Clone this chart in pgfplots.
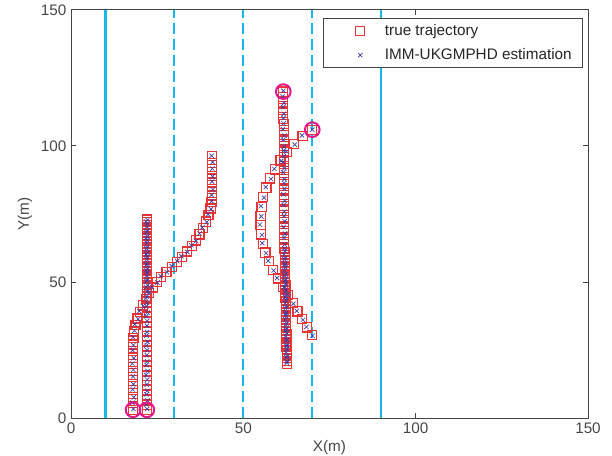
\documentclass[border=0pt]{standalone}
\usepackage{fontspec}
\setmainfont{Liberation Sans}
\usepackage{pgfplots}
\usepackage{pgfplotstable}
\pgfplotsset{compat=1.18}
\usetikzlibrary{calc}

\definecolor{trajred}{RGB}{232,52,52}
\definecolor{estblue}{RGB}{60,60,165}
\definecolor{birthmag}{RGB}{228,24,140}
\definecolor{lanecyan}{RGB}{20,182,235}
\definecolor{axgray}{RGB}{70,70,70}

% columns: true x, true y, estimated x, estimated y
\pgfplotstableread{
x y ex ey
22 3.0 22.1 3.3
22 4.8 21.8 5.0
22 6.6 22.2 6.4
22 8.4 21.9 8.7
22 10.2 22.1 10.0
22 12.0 22.0 12.3
22 13.8 22.1 14.1
22 15.6 21.8 15.8
22 17.4 22.2 17.2
22 19.2 21.9 19.5
22 21.0 22.1 20.8
22 22.8 22.0 23.1
22 24.6 22.1 24.9
22 26.4 21.8 26.6
22 28.2 22.2 28.0
22 30.0 21.9 30.3
22 31.8 22.1 31.6
22 33.6 22.0 33.9
22 35.4 22.1 35.7
22 37.2 21.8 37.4
22 39.0 22.2 38.8
22 40.8 21.9 41.1
22 42.6 22.1 42.4
22 44.4 22.0 44.7
22 46.2 22.1 46.5
22 48.0 21.8 48.2
22 49.0 22.2 48.8
22 50.0 21.9 50.3
22 51.0 22.1 50.8
22 52.0 22.0 52.3
22 53.0 22.1 53.3
22 54.0 21.8 54.2
22 55.0 22.2 54.8
22 56.0 21.9 56.3
22 57.0 22.1 56.8
22 58.0 22.0 58.3
22 59.0 22.1 59.3
22 60.0 21.8 60.2
22 61.0 22.2 60.8
22 62.0 21.9 62.3
22 63.0 22.1 62.8
22 64.0 22.0 64.3
22 65.0 22.1 65.3
22 66.0 21.8 66.2
22 67.0 22.2 66.8
22 68.0 21.9 68.3
22 69.0 22.1 68.8
22 70.0 22.0 70.3
22 71.0 22.1 71.3
22 72.0 21.8 72.2
22 73.0 22.2 72.8
}\trackA

\pgfplotstableread{
x y ex ey
18.0 3.0 18.1 3.3
18.0 5.4 17.8 5.6
18.0 7.8 18.2 7.6
18.0 10.2 17.9 10.5
18.0 12.6 18.1 12.4
18.0 15.0 18.0 15.3
18.0 17.4 18.1 17.7
18.0 19.8 17.8 20.0
18.0 22.2 18.2 22.0
18.0 24.6 17.9 24.9
18.0 27.0 18.1 26.8
18.1 29.4 18.0 29.7
18.3 31.8 18.4 32.1
18.7 34.2 18.5 34.4
19.3 36.6 19.5 36.4
20.0 39.0 19.8 39.3
20.8 41.4 20.9 41.2
21.7 43.7 21.7 44.0
22.6 45.9 22.7 46.2
23.7 48.0 23.5 48.2
24.9 50.0 25.1 49.8
26.2 51.9 26.0 52.2
27.7 53.8 27.8 53.6
29.2 55.6 29.2 55.9
30.7 57.4 30.8 57.7
32.2 59.3 32.0 59.5
33.6 61.2 33.8 61.0
35.0 63.2 34.9 63.5
36.2 65.3 36.3 65.1
37.3 67.5 37.3 67.8
38.3 69.8 38.1 70.0
39.2 72.2 39.4 72.0
39.9 74.6 39.8 74.9
40.5 77.0 40.6 76.8
40.8 79.4 40.8 79.7
41.0 81.8 40.8 82.0
41.0 84.2 41.2 84.0
41.0 86.6 40.9 86.9
41.0 89.0 41.1 88.8
41.0 91.4 41.0 91.7
41.0 93.8 41.1 94.1
41.0 96.2 40.8 96.4
}\trackB

\pgfplotstableread{
x y ex ey
70.0 106.0 70.0 106.0
67.2 103.6 67.0 103.9
64.8 100.8 64.9 100.5
62.7 97.8 62.5 98.0
60.8 94.7 61.0 94.5
59.2 91.4 59.0 91.6
57.8 88.1 58.0 87.9
56.7 84.7 56.5 84.9
55.8 81.2 56.0 81.0
55.3 77.7 55.1 77.9
55.0 74.3 55.2 74.1
55.0 70.9 54.8 71.1
55.2 67.5 55.4 67.3
55.7 64.1 55.5 64.3
56.4 60.8 56.6 60.6
57.4 57.6 57.2 57.8
58.6 54.4 58.8 54.2
60.0 51.3 59.8 51.5
61.6 48.2 61.8 48.0
63.0 45.2 62.8 45.4
64.3 42.2 64.5 42.0
65.7 39.2 65.5 39.4
67.1 36.3 67.3 36.1
68.5 33.3 68.3 33.5
69.9 30.4 70.1 30.2
}\trackC

\pgfplotstableread{
x y ex ey
61.6 120 61.6 120.3
61.6 118 61.4 118.2
61.6 116 61.8 115.8
61.6 114 61.5 114.3
61.6 112 61.7 111.8
61.6 110 61.6 110.3
61.7 108 61.7 108.3
61.7 106 61.5 106.2
61.7 104 61.9 103.8
61.7 102 61.6 102.3
61.7 100 61.8 99.8
61.7 98 61.7 98.3
61.7 96 61.8 96.3
61.7 94 61.5 94.2
61.7 92 61.9 91.8
61.7 90 61.6 90.3
61.8 88 61.9 87.8
61.8 86 61.8 86.3
61.8 84 61.9 84.3
61.8 82 61.6 82.2
61.8 80 62.0 79.8
61.8 78 61.7 78.3
61.8 76 61.9 75.8
61.8 74 61.8 74.3
61.9 72 62.0 72.3
61.9 70 61.7 70.2
61.9 68 62.1 67.8
61.9 66 61.8 66.3
61.9 64 62.0 63.8
61.9 62 61.9 62.3
62.0 61 62.1 61.3
62.0 60 61.8 60.2
62.0 59 62.2 58.8
62.0 58 61.9 58.3
62.0 57 62.1 56.8
62.0 56 62.0 56.3
62.1 55 62.2 55.3
62.1 54 61.9 54.2
62.1 53 62.3 52.8
62.1 52 62.0 52.3
62.1 51 62.2 50.8
62.1 50 62.1 50.3
62.2 49 62.3 49.3
62.2 48 62.0 48.2
62.2 47 62.4 46.8
62.2 46 62.1 46.3
62.2 45 62.3 44.8
62.2 44 62.2 44.3
62.3 43 62.4 43.3
62.3 42 62.1 42.2
62.3 41 62.5 40.8
62.3 40 62.2 40.3
62.3 39 62.4 38.8
62.3 38 62.3 38.3
62.4 37 62.5 37.3
62.4 36 62.2 36.2
62.4 35 62.6 34.8
62.4 34 62.3 34.3
62.4 33 62.5 32.8
62.4 32 62.4 32.3
62.5 31 62.6 31.3
62.5 30 62.3 30.2
62.5 29 62.7 28.8
62.5 28 62.4 28.3
62.5 27 62.6 26.8
62.5 26 62.5 26.3
62.6 25 62.7 25.3
62.6 24 62.4 24.2
62.6 23 62.8 22.8
62.6 22 62.5 22.3
62.6 21 62.7 20.8
62.6 20 62.6 20.3
}\trackD

\begin{document}
\begin{tikzpicture}
\pgfplotsset{
  truestyle/.style={draw=none, mark=square, mark size=3.4bp,
    mark options={draw=trajred, line width=0.9bp}},
  eststyle/.style={draw=none, mark=x, mark size=2.3bp,
    mark options={draw=estblue, line width=0.5bp}},
  lane/.style={draw=lanecyan, line width=1.6bp, mark=none, forget plot},
}
\begin{axis}[
  name=ax,
  scale only axis,
  width=387.75bp, height=306bp,
  xmin=0, xmax=150, ymin=0, ymax=150,
  xtick={0,50,100,150}, ytick={0,50,100,150},
  tick align=inside,
  major tick length=3.5bp,
  axis line style={axgray, line width=0.75bp},
  tick style={axgray, line width=0.75bp},
  /pgf/number format/assume math mode=true,
  ticklabel style={font=\fontsize{11.5}{13.5}\selectfont, text=axgray},
  label style={font=\fontsize{11.5}{13.5}\selectfont, text=axgray},
  xlabel={X(m)}, ylabel={Y(m)},
  xlabel style={at={(axis description cs:0.5,-0.073)}, anchor=center},
  ylabel style={at={(axis description cs:-0.089,0.5)}, anchor=center},
  legend cell align=left,
  legend image code/.code={
    \draw[mark repeat=2, mark phase=2, #1, draw=white, line width=0pt]
      plot coordinates {(0bp,0bp) (21.5bp,0bp) (38bp,0bp)};
  },
  legend style={
    at={(rel axis cs:0.99,0.98)}, anchor=north east,
    draw=axgray, line width=0.75bp,
    font=\fontsize{11.5}{13.5}\selectfont, text=black!85,
    inner xsep=6bp, inner ysep=2.4bp,
    nodes={inner sep=2bp},
    row sep=4.25bp,
  },
]
% lane lines
\addplot[lane, dash pattern=on 8.5bp off 3.5bp] coordinates {(30,0) (30,150)};
\addplot[lane] coordinates {(90,0) (90,150)};
\addplot[lane, dash pattern=on 8.5bp off 3.5bp] coordinates {(50,0) (50,150)};
\addplot[lane] coordinates {(10,0) (10,150)};
\addplot[lane, dash pattern=on 8.5bp off 3.5bp] coordinates {(70,0) (70,150)};

% true trajectories
\addplot[truestyle] table[x=x, y=y] {\trackA};
\addplot[truestyle, forget plot] table[x=x, y=y] {\trackB};
\addplot[truestyle, forget plot] table[x=x, y=y] {\trackC};
\addplot[truestyle, forget plot] table[x=x, y=y] {\trackD};

% estimates
\addplot[eststyle] table[x=ex, y=ey] {\trackA};
\addplot[eststyle, forget plot] table[x=ex, y=ey] {\trackB};
\addplot[eststyle, forget plot] table[x=ex, y=ey] {\trackC};
\addplot[eststyle, forget plot] table[x=ex, y=ey] {\trackD};

% birth points
\addplot[draw=none, mark=o, mark size=5.5bp, forget plot,
  mark options={draw=birthmag, line width=1.5bp}]
  coordinates {(18,3) (22,3) (61.6,120) (70,106)};

\legend{true trajectory, IMM-UKGMPHD estimation}
\end{axis}
\pgfresetboundingbox
\path ($(ax.south west)+(-53.25bp,-28.5bp)$) rectangle ($(ax.north east)+(18bp,7.5bp)$);
\end{tikzpicture}
\end{document}
